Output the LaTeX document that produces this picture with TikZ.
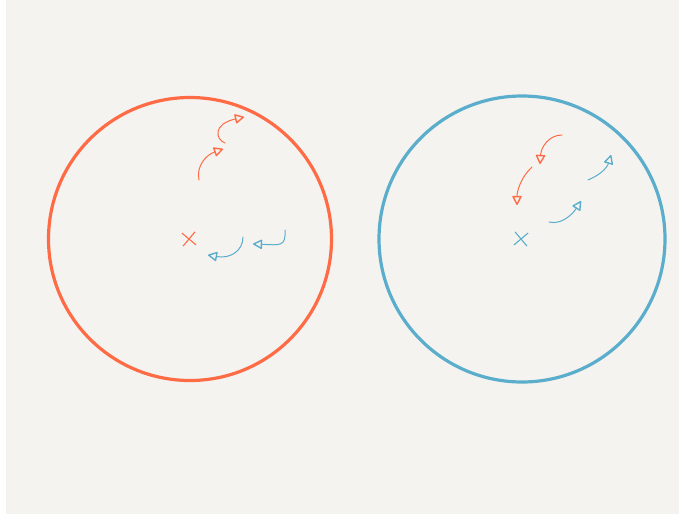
\documentclass[tikz,border=0pt]{standalone}
\usetikzlibrary{arrows.meta,shapes.misc}
\definecolor{sketchorange}{RGB}{255,107,69}
\definecolor{sketchblue}{RGB}{90,174,204}
\definecolor{paper}{RGB}{245,243,240}
\begin{document}
\begin{tikzpicture}[x=1pt,y=-1pt]
        % Style Definitions
        \tikzstyle{ring} = [circle, draw, line width=3.2pt, minimum size=283pt, inner sep=0pt]
        \tikzstyle{centremark} = [cross out, draw, line width=1.1pt, minimum size=12pt, inner sep=0pt]
        \tikzstyle{flick} = [line width=1pt, line cap=round, -{Triangle[open, length=10pt, width=10pt, round, line width=1.4pt]}]

        % Background
        \useasboundingbox (0,0) rectangle (682,514);
        \fill[white] (0,0) rectangle (682,514);
        \fill[paper] (6,0) rectangle (679,514);

        % Nodes
        \node (leftring) [ring, draw=sketchorange] at (190,239) {};
        \node (rightring) [ring, draw=sketchblue, minimum size=286pt] at (522,239) {};
        \node (leftx) [centremark, draw=sketchorange, rotate=5] at (189,239) {};
        \node (rightx) [centremark, draw=sketchblue, rotate=-5] at (521,239) {};

        % Arrow ends
        \coordinate (lo1s) at (199,180);
        \coordinate (lo1e) at (223,149);
        \coordinate (lo2s) at (225,143);
        \coordinate (lo2e) at (244,117);
        \coordinate (lb1s) at (243,237);
        \coordinate (lb1e) at (208,255);
        \coordinate (lb2s) at (285,230);
        \coordinate (lb2e) at (253,244);
        \coordinate (ro1s) at (562,135);
        \coordinate (ro1e) at (540,164);
        \coordinate (ro2s) at (532,167);
        \coordinate (ro2e) at (517,205);
        \coordinate (rb1s) at (588,180);
        \coordinate (rb1e) at (611,155);
        \coordinate (rb2s) at (549,222);
        \coordinate (rb2e) at (581,201);

        % Arrows
        \draw[flick, draw=sketchorange] (lo1s) .. controls (196,166) and (206,155) .. (lo1e);
        \draw[flick, draw=sketchorange] (lo2s) .. controls (215,139) and (213,124) .. (lo2e);
        \draw[flick, draw=sketchblue] (lb1s) .. controls (243,251) and (230,259) .. (lb1e);
        \draw[flick, draw=sketchblue] (lb2s) .. controls (286,247) and (280,245) .. (lb2e);
        \draw[flick, draw=sketchorange] (ro1s) .. controls (549,135) and (541,147) .. (ro1e);
        \draw[flick, draw=sketchorange] (ro2s) .. controls (522,176) and (517,190) .. (ro2e);
        \draw[flick, draw=sketchblue] (rb1s) .. controls (600,175) and (607,168) .. (rb1e);
        \draw[flick, draw=sketchblue] (rb2s) .. controls (561,225) and (572,215) .. (rb2e);

    \end{tikzpicture}
\end{document}
